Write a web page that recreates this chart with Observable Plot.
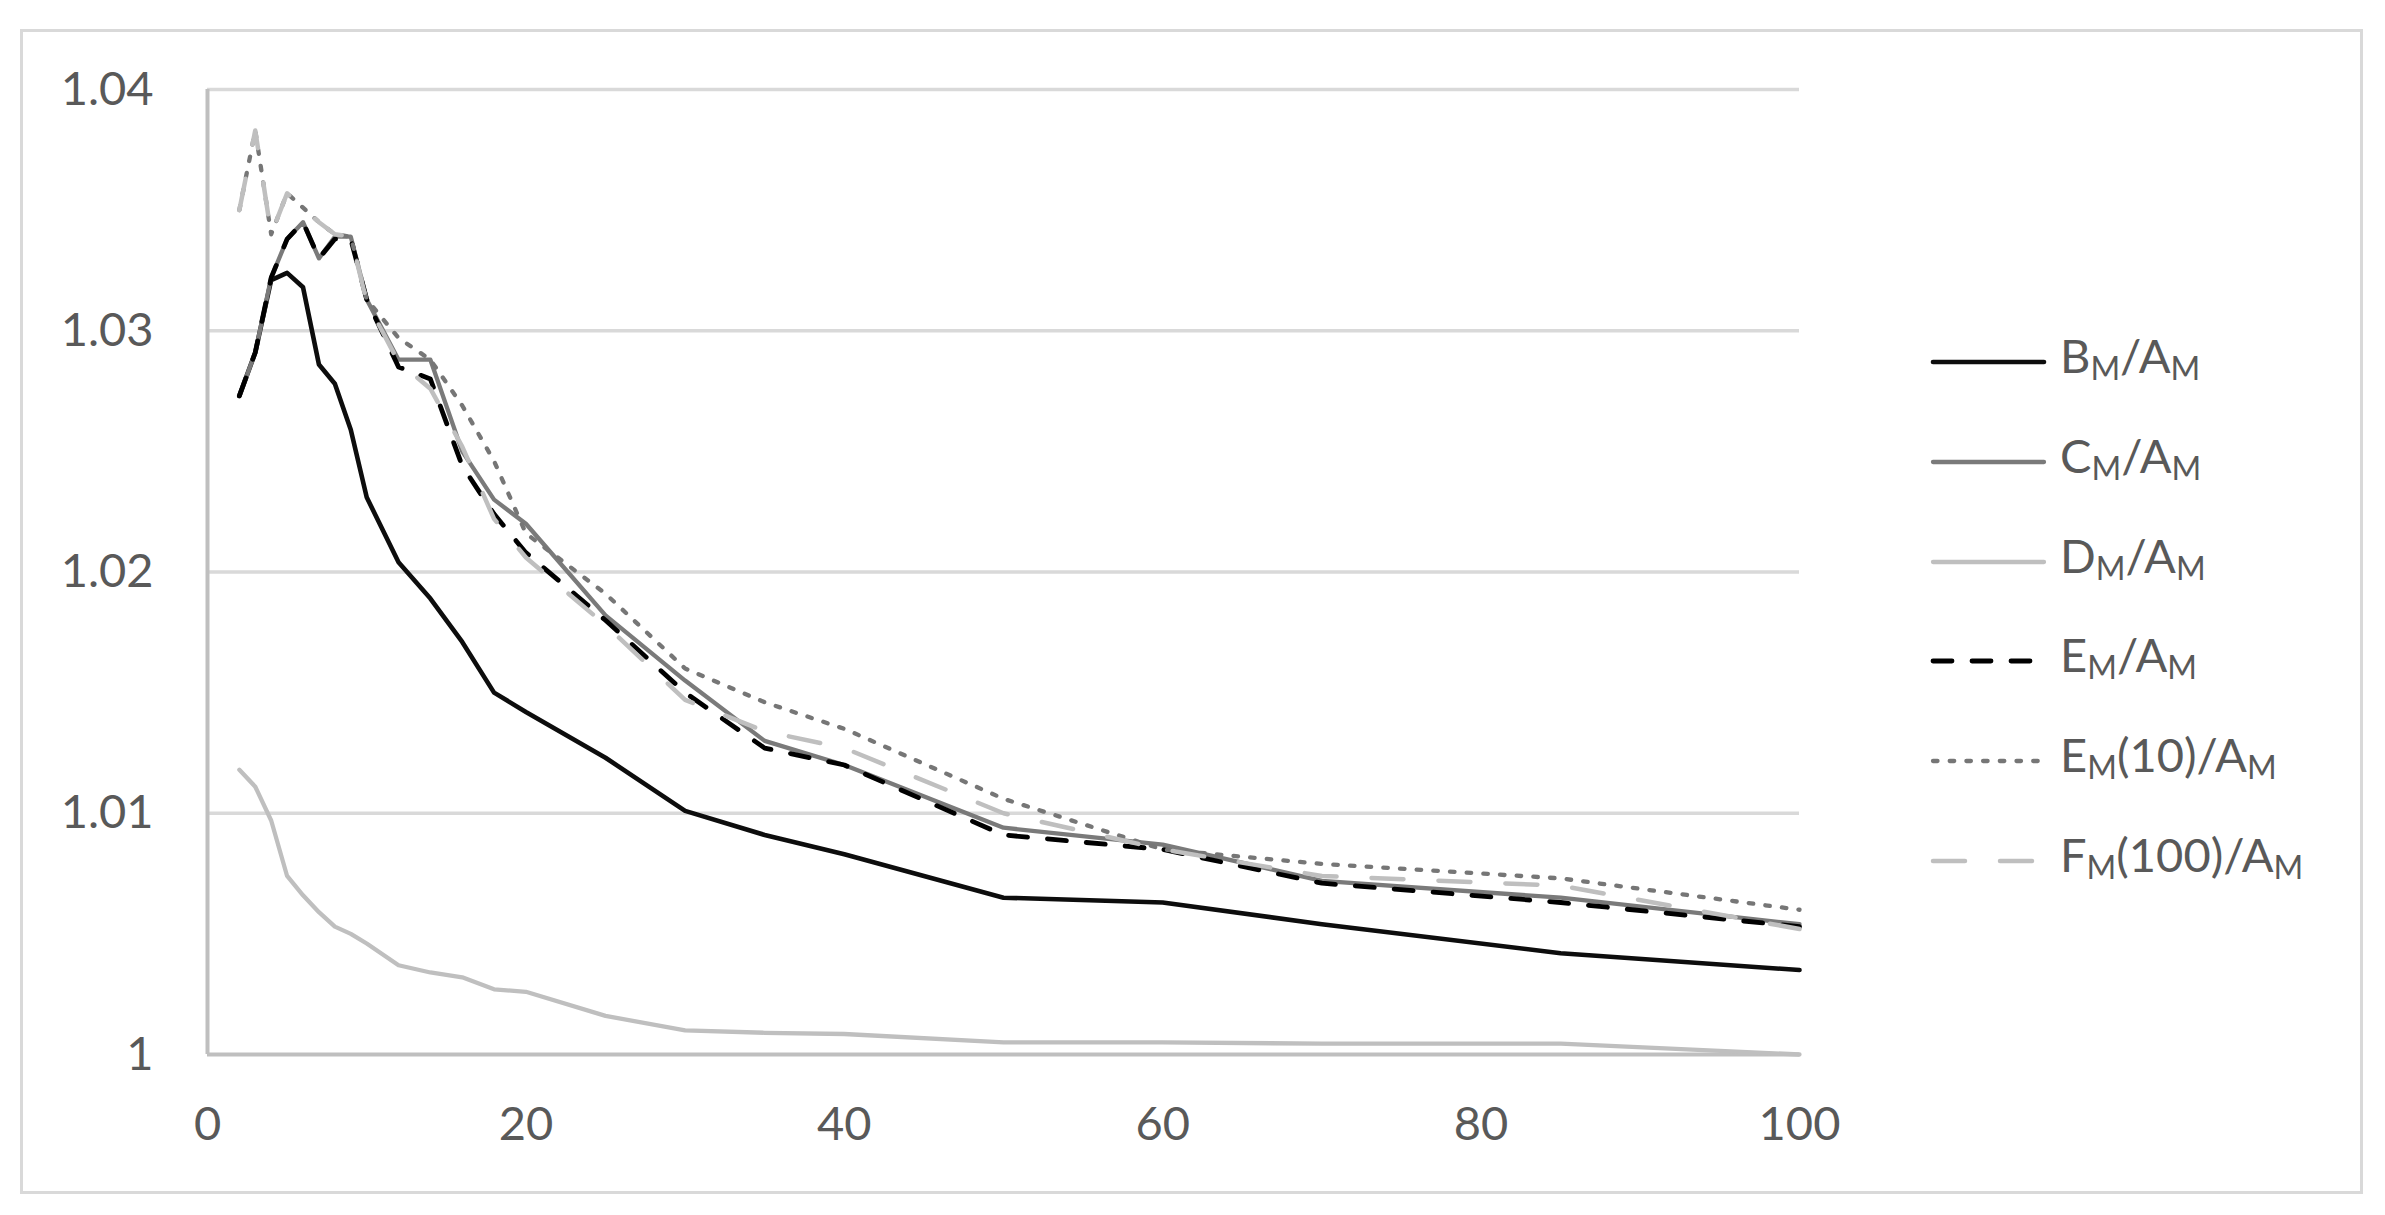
<!DOCTYPE html>
<html>
<head>
<meta charset="utf-8">
<script src="https://cdn.jsdelivr.net/npm/d3@7"></script>
<script src="https://cdn.jsdelivr.net/npm/@observablehq/plot@0.6"></script>
<style>
  html, body { margin: 0; padding: 0; background: #ffffff; }
  #wrap { position: relative; width: 2385px; height: 1215px; overflow: hidden; background: #fff; }
  #frame { position: absolute; left: 20px; top: 29px; width: 2343px; height: 1165px; box-sizing: border-box; border: 3px solid #d9d9d9; }
  #chart { position: absolute; left: 0; top: 0; }
  .row { position: absolute; left: 1930px; height: 60px; display: flex; align-items: center; font-family: Lato, "Open Sans", sans-serif; font-size: 47px; color: #595959; white-space: nowrap; }
  .row svg { display: block; }
  .row .txt { margin-left: 13px; position: relative; top: -4px; line-height: 60px; }
  .row .sb { font-size: 32px; position: relative; top: 7px; }
</style>
</head>
<body>
<div id="wrap">
  <div id="frame"></div>
  <div id="chart"></div>
  <div id="legend"></div>
</div>
<script>
// ---- data ----
const xValues = [2, 3, 4, 5, 6, 7, 8, 9, 10, 12, 14, 16, 18, 20, 25, 30, 35, 40, 50, 60, 70, 85, 100];

const seriesB   = [1.0273, 1.0291, 1.0321, 1.0324, 1.0318, 1.0286, 1.0278, 1.0259, 1.0231, 1.0204, 1.0189, 1.0171, 1.0150, 1.0142, 1.0123, 1.0101, 1.0091, 1.0083, 1.0065, 1.0063, 1.0054, 1.0042, 1.0035];
const seriesC   = [1.0273, 1.0291, 1.0322, 1.0338, 1.0345, 1.0330, 1.0339, 1.0339, 1.0313, 1.0288, 1.0288, 1.0250, 1.0230, 1.0220, 1.0182, 1.0155, 1.0130, 1.0120, 1.0094, 1.0087, 1.0072, 1.0065, 1.0054];
const seriesD   = [1.0118, 1.0111, 1.0097, 1.0074, 1.0066, 1.0059, 1.0053, 1.0050, 1.0046, 1.0037, 1.0034, 1.0032, 1.0027, 1.0026, 1.0016, 1.0010, 1.0009, 1.00085, 1.0005, 1.0005, 1.00045, 1.00045, 1.0000];
const seriesE   = [1.0273, 1.0291, 1.0322, 1.0338, 1.0345, 1.0330, 1.0338, 1.0338, 1.0313, 1.0285, 1.0280, 1.0244, 1.0224, 1.0208, 1.0180, 1.0150, 1.0127, 1.0120, 1.0091, 1.0085, 1.0071, 1.0063, 1.0053];
const seriesE10 = [1.0350, 1.0383, 1.0340, 1.0357, 1.0351, 1.0345, 1.0340, 1.0339, 1.0313, 1.0297, 1.0288, 1.0269, 1.0246, 1.0216, 1.0191, 1.0160, 1.0146, 1.0135, 1.0106, 1.0085, 1.0079, 1.0073, 1.0060];
const seriesF100= [1.0350, 1.0383, 1.0340, 1.0357, 1.0351, 1.0345, 1.0340, 1.0339, 1.0312, 1.0287, 1.0276, 1.0252, 1.0222, 1.0206, 1.0178, 1.0147, 1.0134, 1.0127, 1.0100, 1.0085, 1.0074, 1.0070, 1.0052];

const xTicks = [0, 20, 40, 60, 80, 100];
const yTicks = [1, 1.01, 1.02, 1.03, 1.04];
const yTickLabels = ["1", "1.01", "1.02", "1.03", "1.04"];

const legendMain = ["B", "C", "D", "E", "E", "F"];
const legendMid  = ["/A", "/A", "/A", "/A", "(10)/A", "(100)/A"];
const legendSub  = "M";

// ---- styles ----
const seriesList = [
  {key: "B",    values: seriesB,    stroke: "#0d0d0d", width: 4.6, dash: null},
  {key: "C",    values: seriesC,    stroke: "#7a7a7a", width: 4.3, dash: null},
  {key: "D",    values: seriesD,    stroke: "#bfbfbf", width: 4.3, dash: null},
  {key: "E",    values: seriesE,    stroke: "#000000", width: 4.8, dash: "19,20"},
  {key: "E10",  values: seriesE10,  stroke: "#767676", width: 4.3, dash: "4.5,12.2"},
  {key: "F100", values: seriesF100, stroke: "#bfbfbf", width: 4.5, dash: "32,35"}
];

const rows = [];
for (const s of seriesList) {
  xValues.forEach((x, i) => rows.push({series: s.key, x, v: s.values[i]}));
}

const lineMarks = seriesList.map(s => Plot.line(rows.filter(r => r.series === s.key), {
  x: "x", y: "v",
  stroke: s.stroke,
  strokeWidth: s.width,
  strokeDasharray: s.dash || undefined,
  strokeLinecap: "round",
  strokeLinejoin: "round"
}));

const chart = Plot.plot({
  width: 2385,
  height: 1215,
  marginLeft: 207,
  marginRight: 586,
  marginTop: 89,
  marginBottom: 161,
  x: {domain: [0, 100]},
  y: {domain: [1, 1.04]},
  style: {fontFamily: "Lato, 'Open Sans', sans-serif", fontSize: "47px", color: "#595959", background: "transparent", overflow: "visible"},
  marks: [
    Plot.ruleY(yTicks.filter(v => v > 1), {stroke: "#d9d9d9", strokeWidth: 3.5}),
    Plot.ruleX([0], {stroke: "#bfbfbf", strokeWidth: 4}),
    Plot.ruleY([1], {stroke: "#bfbfbf", strokeWidth: 4}),
    Plot.axisY({ticks: yTicks, tickFormat: d => yTickLabels[Math.round((d - 1) * 100)], tickSize: 0, tickPadding: 54, fontSize: 47, label: null}),
    Plot.axisX({ticks: xTicks, tickFormat: d => String(d), tickSize: 0, tickPadding: 52, fontSize: 47, label: null}),
    ...lineMarks
  ]
});
document.getElementById("chart").appendChild(chart);

// ---- legend ----
const legend = document.getElementById("legend");
seriesList.forEach((s, i) => {
  const cy = 362 + i * 99.8;
  const row = document.createElement("div");
  row.className = "row";
  row.style.top = (cy - 30) + "px";
  const svgNS = "http://www.w3.org/2000/svg";
  const svg = document.createElementNS(svgNS, "svg");
  svg.setAttribute("width", "117");
  svg.setAttribute("height", "12");
  const ln = document.createElementNS(svgNS, "line");
  ln.setAttribute("x1", "3"); ln.setAttribute("x2", "114");
  ln.setAttribute("y1", "6"); ln.setAttribute("y2", "6");
  ln.setAttribute("stroke", s.stroke);
  ln.setAttribute("stroke-width", s.width);
  ln.setAttribute("stroke-linecap", "round");
  if (s.dash) ln.setAttribute("stroke-dasharray", s.dash);
  svg.appendChild(ln);
  row.appendChild(svg);
  const txt = document.createElement("span");
  txt.className = "txt";
  const sub1 = document.createElement("span"); sub1.className = "sb"; sub1.textContent = legendSub;
  const sub2 = document.createElement("span"); sub2.className = "sb"; sub2.textContent = legendSub;
  txt.appendChild(document.createTextNode(legendMain[i]));
  txt.appendChild(sub1);
  txt.appendChild(document.createTextNode(legendMid[i]));
  txt.appendChild(sub2);
  row.appendChild(txt);
  legend.appendChild(row);
});
</script>
</body>
</html>
